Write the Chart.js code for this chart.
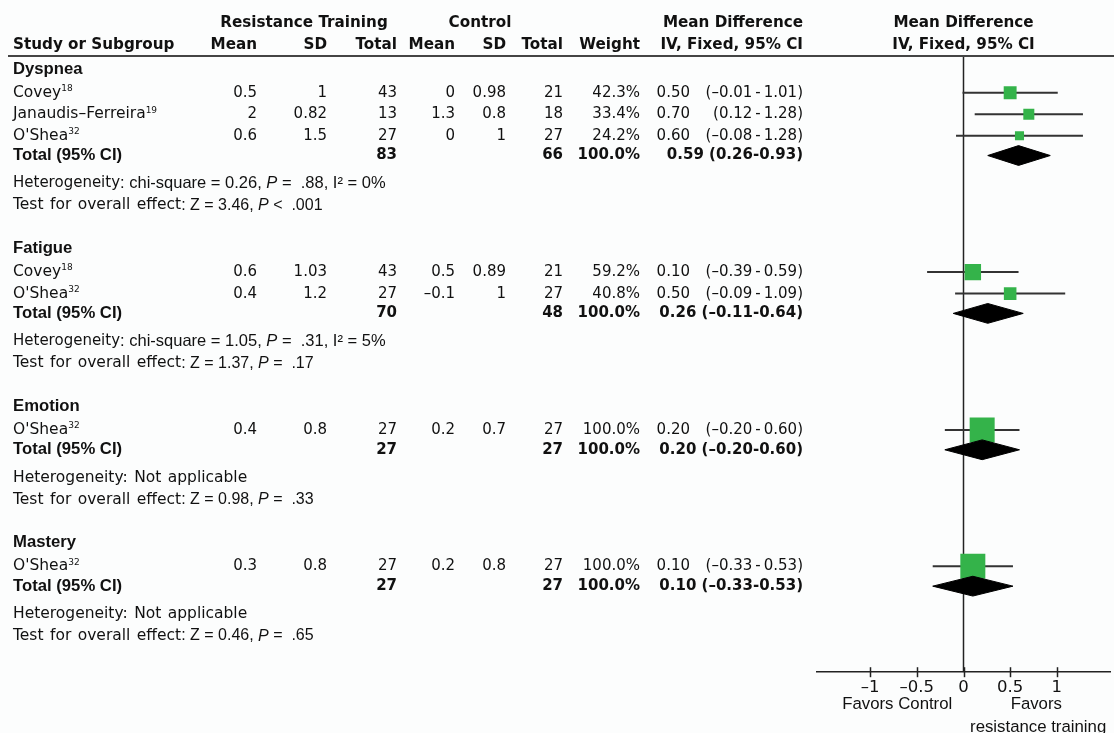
<!DOCTYPE html>
<html lang="en">
<head>
<meta charset="utf-8">
<title>Forest plot - resistance training</title>
<script src="https://cdn.jsdelivr.net/npm/chart.js@4.4.1/dist/chart.umd.min.js"></script>
<style>
  body { margin: 0; background: #fcfdfd; }
  canvas { display: block; }
</style>
</head>
<body>
<canvas id="forest" width="1114" height="733"></canvas>
<script>
// ---- data ----
const groupNames = ['Dyspnea', 'Fatigue', 'Emotion', 'Mastery'];

const studyGroup = [0, 0, 0, 1, 1, 2, 3];
const studyNames = ['Covey', 'Janaudis\u2013Ferreira', "O'Shea", 'Covey', "O'Shea", "O'Shea", "O'Shea"];
const studyRefs = ['18', '19', '32', '18', '32', '32', '32'];
const rtMean = [0.5, 2, 0.6, 0.6, 0.4, 0.4, 0.3];
const rtSD = [1, 0.82, 1.5, 1.03, 1.2, 0.8, 0.8];
const rtN = [43, 13, 27, 43, 27, 27, 27];
const ctMean = [0, 1.3, 0, 0.5, -0.1, 0.2, 0.2];
const ctSD = [0.98, 0.8, 1, 0.89, 1, 0.7, 0.8];
const ctN = [21, 18, 27, 21, 27, 27, 27];
const studyWeight = [42.3, 33.4, 24.2, 59.2, 40.8, 100, 100];
const studyMD = [0.50, 0.70, 0.60, 0.10, 0.50, 0.20, 0.10];
const studyLo = [-0.01, 0.12, -0.08, -0.39, -0.09, -0.20, -0.33];
const studyHi = [1.01, 1.28, 1.28, 0.59, 1.09, 0.60, 0.53];

const totalRtN = [83, 70, 27, 27];
const totalCtN = [66, 48, 27, 27];
const totalMD = [0.59, 0.26, 0.20, 0.10];
const totalLo = [0.26, -0.11, -0.20, -0.33];
const totalHi = [0.93, 0.64, 0.60, 0.53];

const hetChi = ['0.26', '1.05', null, null];
const hetP = ['.88', '.31', null, null];
const hetI2 = ['0%', '5%', null, null];
const testZ = ['3.46', '1.37', '0.98', '0.46'];
const testOp = ['<', '=', '=', '='];
const testP = ['.001', '.17', '.33', '.65'];

const xTicks = [-1, -0.5, 0, 0.5, 1];

// ---- layout / style ----
const GREEN = '#34b34a';
const INK = '#111';
const F_HEAD = 'bold 15.2px "DejaVu Sans"';
const F_NUM = '15px "DejaVu Sans"';
const F_NUM_B = 'bold 15px "DejaVu Sans"';
const F_TXT = '15.5px "DejaVu Sans"';
const F_SANS = '16px "Liberation Sans"';
const F_SANS_H = '16.5px "Liberation Sans"';
const F_SANS_HI = 'italic 16.5px "Liberation Sans"';
const F_SANS_B = 'bold 16.7px "Liberation Sans"';
const F_SANS_I = 'italic 16px "Liberation Sans"';
const F_FAV = '16.8px "Liberation Sans"';
const F_SUP = '9px "DejaVu Sans"';
const COL = { name: 13, rtMean: 257, rtSD: 327, rtN: 397, ctMean: 455, ctSD: 506, ctN: 563,
              weight: 640, est: 690, ci: 803 };
const Y_MAX = 28.6;
const DIAMOND_H = 0.46;

// row positions in "line" units
const rows = [];
const studyY = [];
const totalY = [];
let v = 0.56;
groupNames.forEach(function (g, gi) {
  if (gi > 0) v += 2.0;
  rows.push({ type: 'title', g: gi, y: v });
  let first = true;
  studyGroup.forEach(function (sg, si) {
    if (sg !== gi) return;
    v += first ? 1.1 : 1.0;
    first = false;
    studyY[si] = v;
    rows.push({ type: 'study', s: si, y: v });
  });
  v += 0.92; totalY[gi] = v; rows.push({ type: 'total', g: gi, y: v });
  v += 1.3; rows.push({ type: 'het', g: gi, y: v });
  v += 1.02; rows.push({ type: 'test', g: gi, y: v });
});

function num(x) { return String(x).replace('-', '\u2013'); }
function fx(x) { return x.toFixed(2).replace('-', '\u2013'); }

// parts: [text, font, dy, extra px per space]
function partWidth(ctx, p) {
  ctx.font = p[1];
  const spaces = p[3] ? p[0].split(' ').length - 1 : 0;
  return ctx.measureText(p[0]).width + spaces * (p[3] || 0);
}
function drawRuns(ctx, parts, x, y, align) {
  let w = 0;
  parts.forEach(function (p) { w += partWidth(ctx, p); });
  let cx = align === 'right' ? x - w : (align === 'center' ? x - w / 2 : x);
  parts.forEach(function (p) {
    ctx.font = p[1];
    const yy = y + (p[2] || 0);
    if (p[3]) {
      const sp = ctx.measureText(' ').width + p[3];
      p[0].split(' ').forEach(function (word, i) {
        if (i > 0) cx += sp;
        ctx.fillText(word, cx, yy);
        cx += ctx.measureText(word).width;
      });
    } else {
      ctx.fillText(p[0], cx, yy);
      cx += ctx.measureText(p[0]).width;
    }
  });
}

// ---- datasets ----
const datasets = [];
// diamonds (top)
groupNames.forEach(function (g, gi) {
  datasets.push({
    type: 'scatter', showLine: true, order: 0,
    data: [
      { x: totalLo[gi], y: totalY[gi] },
      { x: totalMD[gi], y: totalY[gi] - DIAMOND_H },
      { x: totalHi[gi], y: totalY[gi] },
      { x: totalMD[gi], y: totalY[gi] + DIAMOND_H },
      { x: totalLo[gi], y: totalY[gi] }
    ],
    borderColor: '#000', borderWidth: 1, backgroundColor: '#000',
    fill: 'shape', pointRadius: 0, tension: 0
  });
});
// squares
datasets.push({
  type: 'scatter', order: 1,
  data: studyMD.map(function (m, i) { return { x: m, y: studyY[i] }; }),
  pointStyle: 'rect',
  pointRadius: studyWeight.map(function (w) { return (4 + 0.21 * w) / Math.SQRT2; }),
  backgroundColor: GREEN, borderWidth: 0
});
// confidence interval lines
studyMD.forEach(function (m, i) {
  datasets.push({
    type: 'scatter', showLine: true, order: 2,
    data: [{ x: studyLo[i], y: studyY[i] }, { x: studyHi[i], y: studyY[i] }],
    borderColor: '#333', borderWidth: 2, pointRadius: 0
  });
});
// line of no effect
datasets.push({
  type: 'scatter', showLine: true, order: 3,
  data: [{ x: 0, y: 0 }, { x: 0, y: Y_MAX }],
  borderColor: '#222', borderWidth: 1.5, pointRadius: 0
});

const tablePlugin = {
  id: 'forestTable',
  afterDraw: function (chart) {
    const ctx = chart.ctx;
    const xs = chart.scales.x;
    const ys = chart.scales.y;
    const py = function (val) { return ys.getPixelForValue(val); };
    const x0 = xs.getPixelForValue(0);
    ctx.save();
    ctx.fillStyle = INK;
    ctx.textBaseline = 'middle';
    ctx.textAlign = 'left';

    // header
    const h1 = py(-1.58), h2 = py(-0.55);
    drawRuns(ctx, [['Resistance Training', F_HEAD]], 304, h1, 'center');
    drawRuns(ctx, [['Control', F_HEAD]], 480, h1, 'center');
    drawRuns(ctx, [['Mean Difference', F_HEAD]], COL.ci, h1, 'right');
    drawRuns(ctx, [['Mean Difference', F_HEAD]], x0, h1, 'center');
    drawRuns(ctx, [['Study or Subgroup', F_HEAD]], COL.name, h2, 'left');
    drawRuns(ctx, [['Mean', F_HEAD]], COL.rtMean, h2, 'right');
    drawRuns(ctx, [['SD', F_HEAD]], COL.rtSD, h2, 'right');
    drawRuns(ctx, [['Total', F_HEAD]], COL.rtN, h2, 'right');
    drawRuns(ctx, [['Mean', F_HEAD]], COL.ctMean, h2, 'right');
    drawRuns(ctx, [['SD', F_HEAD]], COL.ctSD, h2, 'right');
    drawRuns(ctx, [['Total', F_HEAD]], COL.ctN, h2, 'right');
    drawRuns(ctx, [['Weight', F_HEAD]], COL.weight, h2, 'right');
    drawRuns(ctx, [['IV, Fixed, 95% CI', F_HEAD]], COL.ci, h2, 'right');
    drawRuns(ctx, [['IV, Fixed, 95% CI', F_HEAD]], x0, h2, 'center');

    ctx.strokeStyle = '#444';
    ctx.lineWidth = 2;
    ctx.beginPath();
    ctx.moveTo(8, py(-0.05));
    ctx.lineTo(chart.width, py(-0.05));
    ctx.stroke();

    rows.forEach(function (r) {
      const y = py(r.y);
      if (r.type === 'title') {
        drawRuns(ctx, [[groupNames[r.g], F_SANS_B]], COL.name, y, 'left');
      } else if (r.type === 'study') {
        const s = r.s;
        drawRuns(ctx, [[studyNames[s], F_TXT], [studyRefs[s], F_SUP, -4]], COL.name, y, 'left');
        drawRuns(ctx, [[num(rtMean[s]), F_NUM]], COL.rtMean, y, 'right');
        drawRuns(ctx, [[num(rtSD[s]), F_NUM]], COL.rtSD, y, 'right');
        drawRuns(ctx, [[num(rtN[s]), F_NUM]], COL.rtN, y, 'right');
        drawRuns(ctx, [[num(ctMean[s]), F_NUM]], COL.ctMean, y, 'right');
        drawRuns(ctx, [[num(ctSD[s]), F_NUM]], COL.ctSD, y, 'right');
        drawRuns(ctx, [[num(ctN[s]), F_NUM]], COL.ctN, y, 'right');
        drawRuns(ctx, [[studyWeight[s].toFixed(1) + '%', F_NUM]], COL.weight, y, 'right');
        drawRuns(ctx, [[fx(studyMD[s]), F_NUM]], COL.est, y, 'right');
        drawRuns(ctx, [['(' + fx(studyLo[s]) + '\u2009-\u2009' + fx(studyHi[s]) + ')', F_NUM]], COL.ci, y, 'right');
      } else if (r.type === 'total') {
        const g = r.g;
        drawRuns(ctx, [['Total (95% CI)', F_SANS_B]], COL.name, y, 'left');
        drawRuns(ctx, [[String(totalRtN[g]), F_NUM_B]], COL.rtN, y, 'right');
        drawRuns(ctx, [[String(totalCtN[g]), F_NUM_B]], COL.ctN, y, 'right');
        drawRuns(ctx, [['100.0%', F_NUM_B]], COL.weight, y, 'right');
        drawRuns(ctx, [[fx(totalMD[g]) + ' (' + fx(totalLo[g]) + '-' + fx(totalHi[g]) + ')', F_NUM_B]], COL.ci, y, 'right');
      } else if (r.type === 'het') {
        const g = r.g;
        if (hetChi[g] === null) {
          drawRuns(ctx, [['Heterogeneity: Not applicable', F_TXT, 0, 1.5]], COL.name, y, 'left');
        } else {
          drawRuns(ctx, [['Heterogeneity', F_NUM], [': chi-square = ' + hetChi[g] + ', ', F_SANS_H],
            ['P', F_SANS_HI], [' =  ' + hetP[g] + ', I\u00b2 = ' + hetI2[g], F_SANS_H]], COL.name, y, 'left');
        }
      } else if (r.type === 'test') {
        const g = r.g;
        drawRuns(ctx, [['Test for overall effect', F_TXT, 0, 1.5], [': Z = ' + testZ[g] + ', ', F_SANS],
          ['P', F_SANS_I], [' ' + testOp[g] + '  ' + testP[g], F_SANS]], COL.name, y, 'left');
      }
    });

    // tick marks crossing the axis
    const axisY = xs.top;
    ctx.strokeStyle = '#222';
    ctx.lineWidth = 1.5;
    xTicks.forEach(function (t) {
      const px = Math.round(xs.getPixelForValue(t)) + 0.5;
      ctx.beginPath();
      ctx.moveTo(px, axisY - 5);
      ctx.lineTo(px, axisY + 5);
      ctx.stroke();
    });

    // favour labels
    drawRuns(ctx, [['Favors Control', F_FAV]], xs.getPixelForValue(-0.71), axisY + 32, 'center');
    drawRuns(ctx, [['Favors', F_FAV]], xs.getPixelForValue(0.78), axisY + 32, 'center');
    drawRuns(ctx, [['resistance training', F_FAV]], xs.getPixelForValue(0.8), axisY + 55, 'center');
    ctx.restore();
  }
};

new Chart(document.getElementById('forest').getContext('2d'), {
  type: 'scatter',
  data: { datasets: datasets },
  plugins: [tablePlugin],
  options: {
    responsive: false,
    animation: false,
    layout: { autoPadding: false, padding: { left: 817, right: 4, top: 57, bottom: 29 } },
    plugins: { legend: { display: false }, tooltip: { enabled: false } },
    scales: {
      x: {
        type: 'linear', min: -1.57, max: 1.57,
        afterBuildTicks: function (scale) {
          scale.ticks = xTicks.map(function (t) { return { value: t }; });
        },
        afterFit: function (scale) {
          scale.paddingLeft = 0;
          scale.paddingRight = 0;
        },
        ticks: {
          padding: 6, color: INK,
          font: { family: 'DejaVu Sans', size: 16.5 },
          callback: function (val) { return val < 0 ? '\u2013' + Math.abs(val) : String(val); }
        },
        grid: { display: false, drawTicks: false },
        border: { display: true, color: '#222', width: 1.5 }
      },
      y: {
        type: 'linear', min: 0, max: Y_MAX, reverse: true, display: false
      }
    }
  }
});
</script>
</body>
</html>
